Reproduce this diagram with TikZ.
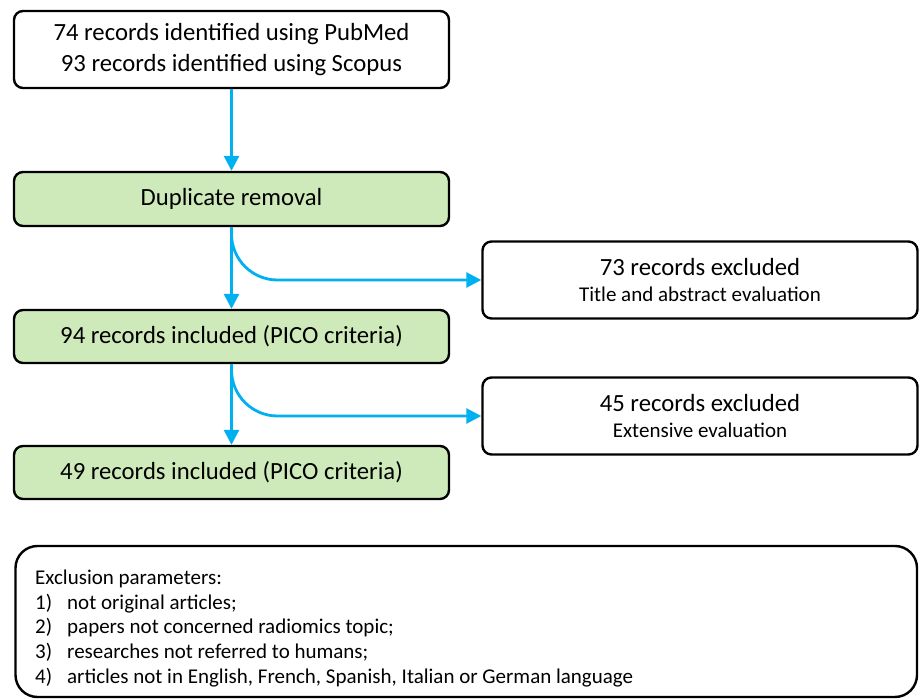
\documentclass[tikz,border=0pt]{standalone}
\usepackage{fontspec}
\setmainfont{Carlito}
\usetikzlibrary{arrows.meta}
\definecolor{stepgreen}{RGB}{207,234,186}
\definecolor{flowblue}{RGB}{0,176,240}
\tikzset{box/.style={draw=black,line width=2.4pt,rounded corners=9pt,inner sep=0pt,align=center,
    font=\fontsize{24.7}{30.5}\selectfont},
  greenbox/.style={box,fill=stepgreen},
  flow/.style={-{Triangle[length=15pt,width=15pt]},draw=flowblue,line width=2.8pt},
  sub/.style={font=\fontsize{21}{24.6}\selectfont}}

\begin{document}
\begin{tikzpicture}[x=1pt,y=-1pt]
  \node[box,minimum width=435pt,minimum height=77pt] (src) at (231.5,49.5)
    {74 records identified using PubMed\\93 records identified using Scopus};
  \node[greenbox,minimum width=435pt,minimum height=54pt] (dup) at (231.5,199) {Duplicate removal};
  \node[greenbox,minimum width=435pt,minimum height=53pt] (inc1) at (231.5,336.5) {94 records included (PICO criteria)};
  \node[greenbox,minimum width=435pt,minimum height=53pt] (inc2) at (231.5,472.5) {49 records included (PICO criteria)};
  \node[box,minimum width=435pt,minimum height=77pt] (exc1) at (700,280)
    {73 records excluded\\[-4pt]{\fontsize{21}{24}\selectfont Title and abstract evaluation}};
  \node[box,minimum width=435pt,minimum height=77pt] (exc2) at (700,416)
    {45 records excluded\\[-4pt]{\fontsize{21}{24}\selectfont Extensive evaluation}};
  \draw[flow] (src) -- (dup);
  \draw[flow] (dup) -- (inc1);
  \draw[flow] (inc1) -- (inc2);
  \draw[flow,rounded corners=46pt] (dup.south) |- (exc1.west);
  \draw[flow,rounded corners=46pt] (inc1.south) |- (exc2.west);
  % exclusion parameters
  \draw[line width=2.4pt,rounded corners=22pt] (15.5,546) rectangle (917,697);
  \node[sub,anchor=base west,align=left,inner sep=0pt] (crit) at (35,683)
    {Exclusion parameters:\\
     \makebox[32pt][l]{1)}not original articles;\\
     \makebox[32pt][l]{2)}papers not concerned radiomics topic;\\
     \makebox[32pt][l]{3)}researches not referred to humans;\\
     \makebox[32pt][l]{4)}articles not in English, French, Spanish, Italian or German language};
  \useasboundingbox (0,0) rectangle (919,695);
\end{tikzpicture}
\end{document}
